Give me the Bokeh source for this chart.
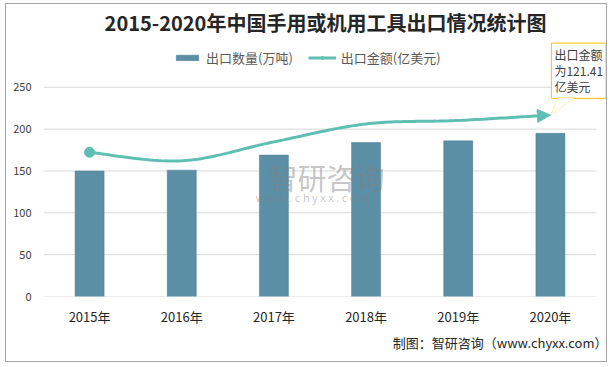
import numpy as np
from bokeh.plotting import figure
from bokeh.models import (Range1d, Arrow, NormalHead, Label, PolyAnnotation,
                          Legend, LegendItem, Title, FixedTicker)
from bokeh.embed import file_html
from bokeh.resources import INLINE

# ---- data ----
years = ["2015年", "2016年", "2017年", "2018年", "2019年", "2020年"]
export_volume = [150, 151, 169, 184, 186, 195]            # 出口数量(万吨)
export_value = [96.5, 90.8, 103.5, 115.5, 117.8, 121.41]  # 出口金额(亿美元)
y_ticks = [0, 50, 100, 150, 200, 250]
y2_max = 140
title_text = "2015-2020年中国手用或机用工具出口情况统计图"
source_text = "制图：智研咨询（www.chyxx.com）"
callout_text = "出口金额\n为121.41\n亿美元"

FONT = "Noto Sans CJK SC"
BAR_COLOR = "#5b8fa6"
LINE_COLOR = "#5fbfb3"
GRID_COLOR = "#d9d9d9"

# layout (px)
W, H = 602, 359
BL, BR, BT, BB = 37, 1, 32, 67
PLOT_W = 553      # px spanned by the 6 categories
PLOT_H = 210      # px between 0 and 250
frame_w = W - BL - BR
frame_h = H - BT - BB

n = len(years)
x_max = n * frame_w / PLOT_W
y_top = y_ticks[-1] * frame_h / PLOT_H
y2_top = y2_max * frame_h / PLOT_H
k2 = y_ticks[-1] / y2_max   # y2 -> y conversion
px_x = n / PLOT_W           # data units per px
px_y = y_ticks[-1] / PLOT_H

p = figure(x_range=Range1d(0, x_max), y_range=Range1d(0, y_top), width=W, height=H,
           output_backend="svg", toolbar_location=None,
           min_border_left=BL, min_border_right=BR, min_border_top=BT, min_border_bottom=BB)
p.extra_y_ranges = {"y2": Range1d(0, y2_top)}
p.outline_line_color = None
p.background_fill_color = "white"
p.border_fill_color = "white"
p.styles = {"border": "1px solid #a6a6a6", "margin-left": "5px", "margin-top": "3px"}

# title
p.title.text = title_text
p.title.align = "center"
p.title.offset = -28
p.title.text_font = FONT
p.title.text_font_size = "20px"
p.title.text_font_style = "bold"
p.title.text_color = "#262626"
p.title.standoff = 2

xs = np.arange(n) + 0.5

# horizontal grid lines limited to the category span
p.segment(x0=[0] * len(y_ticks), x1=[n] * len(y_ticks), y0=y_ticks, y1=y_ticks,
          line_color=GRID_COLOR, line_width=1)

# bars
bars = p.vbar(x=xs, top=export_volume, width=0.315, fill_color=BAR_COLOR,
              line_color="#4f7d93", line_width=0.5)

# smooth line (Bezier smoothing through data points)
ys_pts = np.array(export_value, dtype=float)
cx, cy = [], []
for i in range(n - 1):
    p0 = (xs[max(i - 1, 0)], ys_pts[max(i - 1, 0)])
    p1 = (xs[i], ys_pts[i])
    p2 = (xs[i + 1], ys_pts[i + 1])
    p3 = (xs[min(i + 2, n - 1)], ys_pts[min(i + 2, n - 1)])
    c1 = (p1[0] + (p2[0] - p0[0]) / 6, p1[1] + (p2[1] - p0[1]) / 6)
    c2 = (p2[0] - (p3[0] - p1[0]) / 6, p2[1] - (p3[1] - p1[1]) / 6)
    t = np.linspace(0, 1, 30)
    bx = (1-t)**3*p1[0] + 3*(1-t)**2*t*c1[0] + 3*(1-t)*t**2*c2[0] + t**3*p2[0]
    by = (1-t)**3*p1[1] + 3*(1-t)**2*t*c1[1] + 3*(1-t)*t**2*c2[1] + t**3*p2[1]
    cx.extend(bx.tolist()); cy.extend(by.tolist())

line = p.line(cx[:-3], cy[:-3], y_range_name="y2", line_color=LINE_COLOR, line_width=3)
start = p.scatter([xs[0]], [ys_pts[0]], y_range_name="y2", size=10,
                  fill_color=LINE_COLOR, line_color=LINE_COLOR)
p.add_layout(Arrow(x_start=cx[-4], y_start=cy[-4], x_end=cx[-1], y_end=cy[-1],
                   y_range_name="y2", line_color=LINE_COLOR, line_width=3,
                   end=NormalHead(size=13, fill_color=LINE_COLOR, line_color=LINE_COLOR)))

# callout
last_x = xs[-1]
tip = export_value[-1] * k2
p.add_layout(Label(x=last_x, y=tip, x_offset=1, y_offset=72,
                   text=callout_text, text_font=FONT, text_font_size="12px",
                   text_color="#404040", text_line_height=0.95, text_baseline="top",
                   padding=3, border_line_color="#ffc000", border_line_width=1,
                   background_fill_color="white"))
p.add_layout(PolyAnnotation(xs=[last_x + 8 * px_x, last_x, last_x + 24 * px_x],
                            ys=[tip + 17.5 * px_y, tip, tip + 17.5 * px_y],
                            fill_color="white", fill_alpha=1,
                            line_color="#ffc000", line_width=1))

# watermark
p.add_layout(Label(x=2.44, y=143, text="智研咨询", text_font=FONT, text_font_size="29px",
                   text_color="#808080", text_alpha=0.45, text_baseline="middle"))
p.add_layout(Label(x=2.3, y=119, text="w w w . c h y x x . c o m", text_font=FONT,
                   text_font_size="11px", text_color="#808080", text_alpha=0.45, text_baseline="middle"))

# axes
p.yaxis.ticker = FixedTicker(ticks=y_ticks)
p.yaxis.axis_line_color = None
p.yaxis.major_tick_line_color = None
p.yaxis.minor_tick_line_color = None
p.yaxis.major_label_text_font = FONT
p.yaxis.major_label_text_font_size = "11px"
p.yaxis.major_label_text_color = "#404040"
p.yaxis.major_label_standoff = 6
p.xaxis.ticker = FixedTicker(ticks=list(xs))
p.xaxis.major_label_overrides = {float(x): y for x, y in zip(xs, years)}
p.xaxis.axis_line_color = None
p.xaxis.major_tick_line_color = None
p.xaxis.minor_tick_line_color = None
p.xaxis.major_label_text_font = FONT
p.xaxis.major_label_text_font_size = "13px"
p.xaxis.major_label_text_color = "#262626"
p.xaxis.major_label_standoff = 4
p.xgrid.grid_line_color = None
p.ygrid.grid_line_color = None

# legend
legend = Legend(items=[LegendItem(label="出口数量(万吨)", renderers=[bars]),
                       LegendItem(label="出口金额(亿美元)", renderers=[line, start])],
                orientation="horizontal", location=(130, 229),
                label_text_font=FONT, label_text_font_size="13px",
                label_text_color="#595959", glyph_width=28, glyph_height=7,
                label_standoff=5, spacing=15, border_line_color=None,
                background_fill_alpha=0, margin=0, padding=4)
p.add_layout(legend, "center")

# source
p.add_layout(Title(text=source_text, align="right",
                   text_font=FONT, text_font_size="13px", text_font_style="normal",
                   text_color="#262626", offset=0, standoff=5), "below")

open("out.html", "w").write(file_html(p, INLINE))
